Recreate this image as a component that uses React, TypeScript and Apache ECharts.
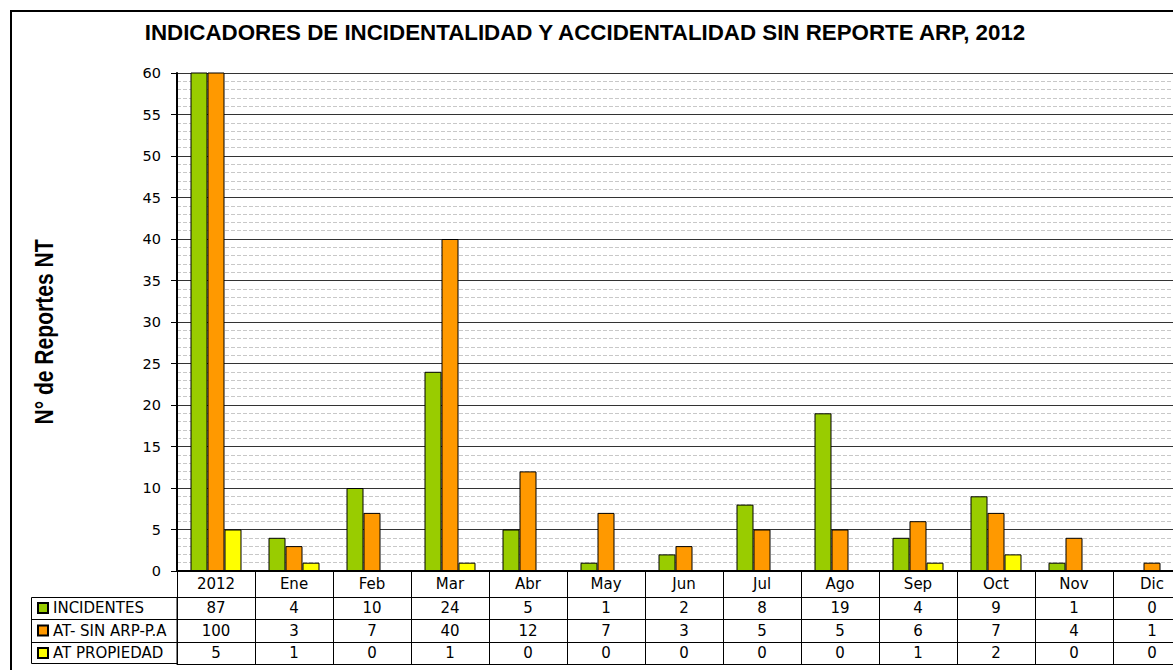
import React, { useEffect, useRef } from 'react';
import * as echarts from 'echarts';

const titleText = 'INDICADORES DE INCIDENTALIDAD Y ACCIDENTALIDAD SIN REPORTE ARP, 2012';
const yAxisTitle = 'N° de Reportes NT';
const categories = ['2012', 'Ene', 'Feb', 'Mar', 'Abr', 'May', 'Jun', 'Jul', 'Ago', 'Sep', 'Oct', 'Nov', 'Dic'];
const seriesNames = ['INCIDENTES', 'AT- SIN ARP-P.A', 'AT PROPIEDAD'];
const incidentes = [87, 4, 10, 24, 5, 1, 2, 8, 19, 4, 9, 1, 0];
const atSinArp = [100, 3, 7, 40, 12, 7, 3, 5, 5, 6, 7, 4, 1];
const atPropiedad = [5, 1, 0, 1, 0, 0, 0, 0, 0, 1, 2, 0, 0];
const seriesColors = ['#99CC00', '#FF9900', '#FFFF00'];
const yMin = 0;
const yMax = 60;
const yInterval = 5;

export default function App() {
  const ref = useRef<HTMLDivElement>(null);

  useEffect(() => {
    if (!ref.current) return;
    const chart = echarts.init(ref.current, null, { renderer: 'svg' });
    const seriesData = [incidentes, atSinArp, atPropiedad];

    const rows = [
      { data: categories, offset: 0, height: 26, lw: 2 },
      { data: incidentes.map(String), offset: 26, height: 22, lw: 1 },
      { data: atSinArp.map(String), offset: 48, height: 23, lw: 1 },
      { data: atPropiedad.map(String), offset: 71, height: 22, lw: 1 },
    ];
    const xAxes: any[] = rows.map((r) => ({
      type: 'category',
      gridIndex: 0,
      position: 'bottom',
      offset: r.offset,
      data: r.data,
      axisLine: { show: true, lineStyle: { color: '#000', width: r.lw } },
      axisTick: {
        show: true,
        interval: 0,
        alignWithLabel: false,
        length: r.height,
        lineStyle: { color: '#000', width: 1 },
      },
      axisLabel: {
        show: true,
        interval: 0,
        margin: r.height / 2,
        verticalAlign: 'middle',
        fontFamily: 'DejaVu Sans',
        fontSize: 15,
        color: '#000',
      },
      splitLine: { show: false },
    }));
    xAxes.push({
      type: 'category',
      gridIndex: 0,
      position: 'bottom',
      offset: 93,
      data: categories,
      axisLine: { show: true, lineStyle: { color: '#000', width: 1 } },
      axisTick: { show: false },
      axisLabel: { show: false },
      splitLine: { show: false },
    });

    const legendCenters = [608, 630.5, 653];

    chart.setOption({
      animation: false,
      backgroundColor: '#fff',
      grid: { left: 177, top: 73, width: 1014, height: 498, containLabel: false },
      xAxis: xAxes,
      yAxis: {
        type: 'value',
        min: yMin,
        max: yMax,
        interval: yInterval,
        axisLine: { show: true, lineStyle: { color: '#000', width: 2 } },
        axisTick: { show: true, length: 6, lineStyle: { color: '#000', width: 1 } },
        axisLabel: { margin: 16, fontFamily: 'DejaVu Sans', fontSize: 14.5, color: '#000' },
        splitLine: { show: true, lineStyle: { color: '#333', width: 1 } },
        minorTick: { show: false, splitNumber: 5 },
        minorSplitLine: { show: true, lineStyle: { color: '#c8c8c8', width: 1, type: [4, 2] } },
      },
      legend: seriesNames.map((n, i) => ({
        data: [n],
        left: 37,
        top: legendCenters[i] - 7.5,
        padding: 0,
        icon: 'rect',
        itemWidth: 10,
        itemHeight: 10,
        itemGap: 4,
        selectedMode: false,
        textStyle: { fontFamily: 'DejaVu Sans', fontSize: 15, color: '#000' },
      })),
      series: seriesNames.map((n, i) => ({
        type: 'bar',
        name: n,
        data: seriesData[i],
        barWidth: 17,
        barGap: '0%',
        clip: true,
        itemStyle: { color: seriesColors[i], borderColor: '#000', borderWidth: 1 },
      })),
      graphic: [
        {
          type: 'rect',
          silent: true,
          shape: { x: 11, y: 11, width: 2000, height: 2000 },
          style: { fill: 'none', stroke: '#000', lineWidth: 2 },
        },
        {
          type: 'rect',
          silent: true,
          shape: { x: 31.5, y: 597.5, width: 145.5, height: 66 },
          style: { fill: 'none', stroke: '#000', lineWidth: 1 },
        },
        {
          type: 'line',
          silent: true,
          shape: { x1: 31.5, y1: 619.5, x2: 177, y2: 619.5 },
          style: { stroke: '#000', lineWidth: 1 },
        },
        {
          type: 'line',
          silent: true,
          shape: { x1: 31.5, y1: 642.5, x2: 177, y2: 642.5 },
          style: { stroke: '#000', lineWidth: 1 },
        },
        {
          type: 'text',
          silent: true,
          x: 585,
          y: 33,
          scaleX: 1.015,
          style: {
            text: titleText,
            font: 'bold 22px "Liberation Sans", Arial, sans-serif',
            fill: '#000',
            textAlign: 'center',
            textVerticalAlign: 'middle',
          },
        },
        {
          type: 'text',
          silent: true,
          x: 44,
          y: 332,
          rotation: Math.PI / 2,
          scaleX: 0.81,
          style: {
            text: yAxisTitle,
            font: 'bold 26px "Liberation Sans", Arial, sans-serif',
            fill: '#000',
            textAlign: 'center',
            textVerticalAlign: 'middle',
          },
        },
      ],
    });

    return () => chart.dispose();
  }, []);

  return (
    <div
      style={{
        position: 'fixed',
        left: 0,
        top: 0,
        width: 1173,
        height: 670,
        overflow: 'hidden',
        background: '#fff',
      }}
    >
      <div ref={ref} style={{ width: 1240, height: 670 }} />
    </div>
  );
}
